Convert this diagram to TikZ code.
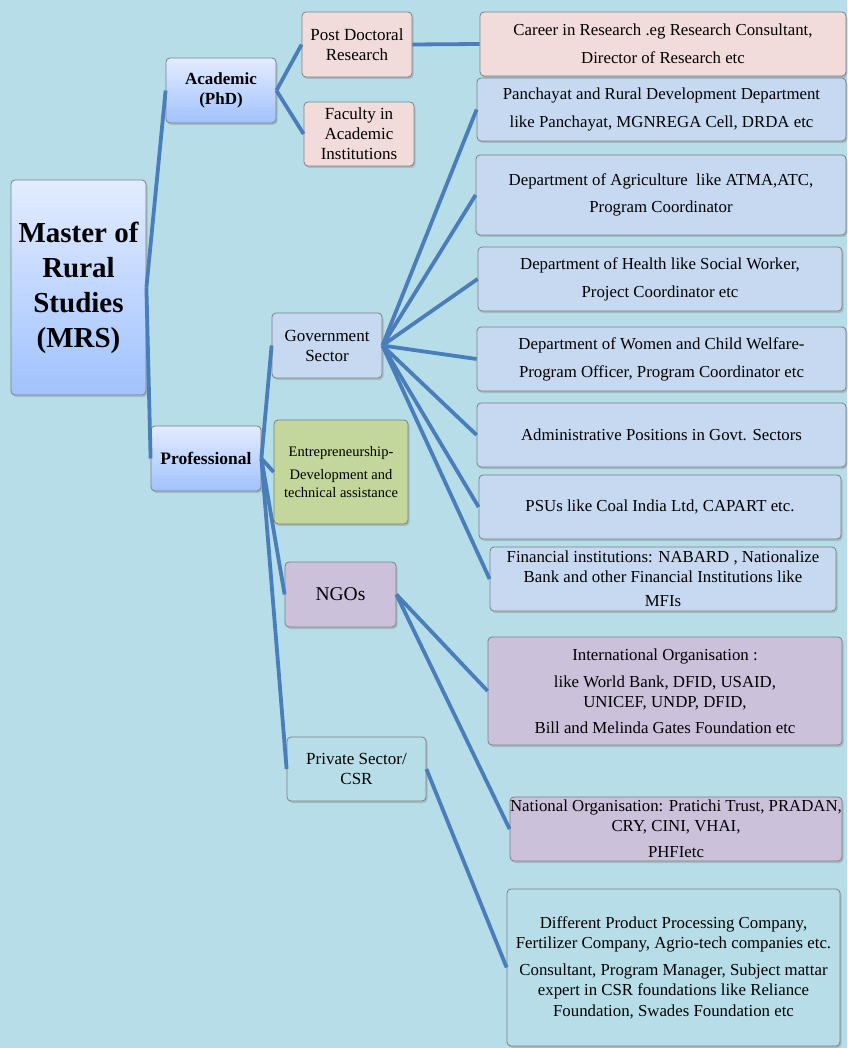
\documentclass[tikz,border=0pt]{standalone}
\usepackage{fontspec}
\setmainfont{Liberation Serif}
\usetikzlibrary{shadows}
\definecolor{bgc}{HTML}{B7DEE8}
\definecolor{pinkc}{HTML}{F2DCDB}
\definecolor{bluec}{HTML}{C6D9F1}
\definecolor{greenc}{HTML}{C3D69B}
\definecolor{purplec}{HTML}{CCC1DA}
\definecolor{linec}{HTML}{4A7EBB}
\definecolor{gtop}{HTML}{E3ECFF}
\definecolor{gbot}{HTML}{A0C2FF}
\definecolor{edgec}{HTML}{7A7F86}
\begin{document}
\begin{tikzpicture}[x=1pt,y=-1pt,
  box/.style={draw=edgec, line width=0.8pt, rounded corners=4pt, align=center,
    inner sep=0pt, font=\fontsize{16.8}{20}\selectfont,
    drop shadow={opacity=0.35, shadow xshift=1.5pt, shadow yshift=-2pt}},
  small/.style={font=\fontsize{17}{20}\selectfont},
  grad/.style={box, top color=gtop, bottom color=gbot},
  pinkbox/.style={box, fill=pinkc},
  bluebox/.style={box, fill=bluec},
  greenbox/.style={box, fill=greenc},
  purplebox/.style={box, fill=purplec},
  plainbox/.style={box, fill=bgc},
  conn/.style={draw=linec, line width=3.8pt}]
\fill[bgc] (0,0) rectangle (847,1048);
\useasboundingbox (0,0) rectangle (847,1048);

% nodes
\node[grad, minimum width=135pt, minimum height=215pt, font=\fontsize{29}{35}\selectfont\bfseries] (mrs) at (78.5,287.5) {Master of\\Rural\\Studies\\(MRS)};
\node[grad, minimum width=110pt, minimum height=65pt, font=\fontsize{17}{20}\selectfont\bfseries] (acad) at (221,90.5) {Academic\\(PhD)};
\node[grad, minimum width=110pt, minimum height=65pt, font=\fontsize{17.5}{20}\selectfont\bfseries] (prof) at (206,458.5) {Professional};

\node[pinkbox, small, minimum width=110pt, minimum height=65pt] (post) at (357,44.5) {Post Doctoral\\Research};
\node[pinkbox, small, minimum width=110pt, minimum height=64pt] (fac) at (359,134) {Faculty in\\Academic\\Institutions};
\node[pinkbox, minimum width=366pt, minimum height=64pt] (career) at (663,44) {Career in Research .eg Research Consultant,\\[8pt]Director of Research etc};

\node[bluebox, small, minimum width=110pt, minimum height=65pt] (gov) at (327,345.5) {Government\\Sector};
\node[bluebox, minimum width=369pt, minimum height=63pt] (panch) at (661.5,109.5) {Panchayat and Rural Development Department\\[8pt]like Panchayat, MGNREGA Cell, DRDA etc};
\node[bluebox, minimum width=370pt, minimum height=80pt] (agri) at (661,195) {Department of Agriculture\ \ like ATMA,ATC,\\[7pt]Program Coordinator};
\node[bluebox, minimum width=364pt, minimum height=64pt] (health) at (660,279) {Department of Health like Social Worker,\\[8pt]Project Coordinator etc};
\node[bluebox, minimum width=369pt, minimum height=64pt] (women) at (661.5,359) {Department of Women and Child Welfare-\\[8pt]Program Officer, Program Coordinator etc};
\node[bluebox, minimum width=369pt, minimum height=64pt] (admin) at (661.5,435) {Administrative Positions in Govt. Sectors};
\node[bluebox, minimum width=362pt, minimum height=64pt] (psu) at (660,507) {PSUs like Coal India Ltd, CAPART etc.};
\node[bluebox, minimum width=346pt, minimum height=64pt, text depth=0pt] (fin) at (663,579) {Financial institutions: NABARD , Nationalize\\[0pt]Bank and other Financial Institutions like\\[4pt]MFIs};

\node[greenbox, minimum width=134pt, minimum height=104pt, font=\fontsize{14.5}{18}\selectfont] (entre) at (341,472) {Entrepreneurship-\\[5pt]Development and\\technical assistance};
\node[purplebox, minimum width=111pt, minimum height=65pt, font=\fontsize{19.5}{20}\selectfont] (ngo) at (340.5,594.5) {NGOs};
\node[plainbox, small, minimum width=139pt, minimum height=64pt] (priv) at (356.5,769) {Private Sector/\\CSR};

\node[purplebox, minimum width=354pt, minimum height=108pt] (intl) at (665,691) {International Organisation :\\[7pt]like World Bank, DFID, USAID,\\UNICEF, UNDP, DFID,\\[6pt]Bill and Melinda Gates Foundation etc};
\node[purplebox, minimum width=332pt, minimum height=64pt] (natl) at (676,829) {National Organisation: Pratichi Trust, PRADAN,\\CRY, CINI, VHAI,\\[6pt]PHFIetc};
\node[plainbox, minimum width=333pt, minimum height=157pt, font=\fontsize{16.8}{20.5}\selectfont] (diff) at (673.5,967.5) {Different Product Processing Company,\\Fertilizer Company, Agrio-tech companies etc.\\[6pt]Consultant, Program Manager, Subject mattar\\expert in CSR foundations like Reliance\\Foundation, Swades Foundation etc};

% connectors
\draw[conn] (mrs.east) -- (acad.west);
\draw[conn] (mrs.east) -- (prof.west);
\draw[conn] (acad.east) -- (post.west);
\draw[conn] (acad.east) -- (fac.west);
\draw[conn] (post.east) -- (career.west);
\draw[conn] (prof.east) -- (gov.west);
\draw[conn] (prof.east) -- (entre.west);
\draw[conn] (prof.east) -- (ngo.west);
\draw[conn] (prof.east) -- (priv.west);
\foreach \t in {panch,agri,health,women,admin,psu,fin}
  \draw[conn] (gov.east) -- (\t.west);
\draw[conn] (ngo.east) -- (intl.west);
\draw[conn] (ngo.east) -- (natl.west);
\draw[conn] (priv.east) -- (diff.west);
\end{tikzpicture}
\end{document}
